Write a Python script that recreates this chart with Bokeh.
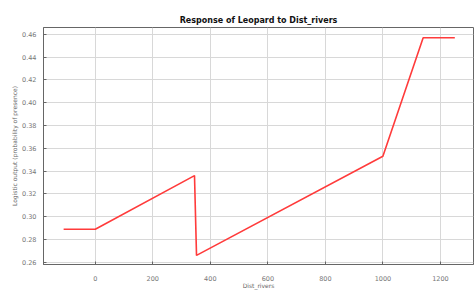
from bokeh.plotting import figure
from bokeh.embed import file_html
from bokeh.resources import INLINE
from bokeh.models import Range1d, FixedTicker, CustomJSTickFormatter

dist_rivers = [-110, 0, 345, 352, 1000, 1140, 1250]
response = [0.289, 0.289, 0.336, 0.266, 0.353, 0.457, 0.457]
x_ticks = [0, 200, 400, 600, 800, 1000, 1200]
y_ticks = [0.26, 0.28, 0.30, 0.32, 0.34, 0.36, 0.38, 0.40, 0.42, 0.44, 0.46]

p = figure(width=474, height=291, output_backend="svg", toolbar_location=None,
           x_range=Range1d(-180, 1315), y_range=Range1d(0.258, 0.466),
           title="Response of Leopard to Dist_rivers",
           min_border_left=43, min_border_right=1, min_border_top=27, min_border_bottom=26)
p.title.align = "center"
p.title.text_font = "DejaVu Sans"
p.title.text_font_size = "8px"
p.title.text_font_style = "bold"
p.title.text_color = "#111111"
p.title.offset = 0
p.title.standoff = 5

p.line(dist_rivers, response, line_color="#ff3b3b", line_width=1.6)

p.xaxis.ticker = FixedTicker(ticks=x_ticks)
p.yaxis.ticker = FixedTicker(ticks=y_ticks)
p.yaxis.formatter = CustomJSTickFormatter(code="return tick.toFixed(2);")
p.xaxis.axis_label = "Dist_rivers"
p.yaxis.axis_label = "Logistic output (probability of presence)"
for ax in (p.xaxis[0], p.yaxis[0]):
    ax.major_label_text_font_size = "6.5px"
    ax.major_label_text_color = "#777777"
    ax.major_label_text_font = "DejaVu Sans"
    ax.axis_label_text_font_size = "6px"
    ax.axis_label_text_font_style = "normal"
    ax.axis_label_text_color = "#666666"
    ax.axis_label_text_font = "DejaVu Sans"
    ax.axis_line_color = "#666666"
    ax.major_tick_line_color = "#666666"
    ax.major_tick_in = 3
    ax.major_tick_out = 0
    ax.minor_tick_line_color = None
p.xaxis.major_label_standoff = 11
p.xaxis.axis_label_standoff = -2
p.yaxis.major_label_standoff = 7
p.yaxis.axis_label_standoff = 1
p.xgrid.grid_line_color = "#d8d8d8"
p.ygrid.grid_line_color = "#d8d8d8"
p.outline_line_color = "#666666"
p.background_fill_color = "white"
p.border_fill_color = "white"

open("out.html", "w").write(file_html(p, INLINE))
